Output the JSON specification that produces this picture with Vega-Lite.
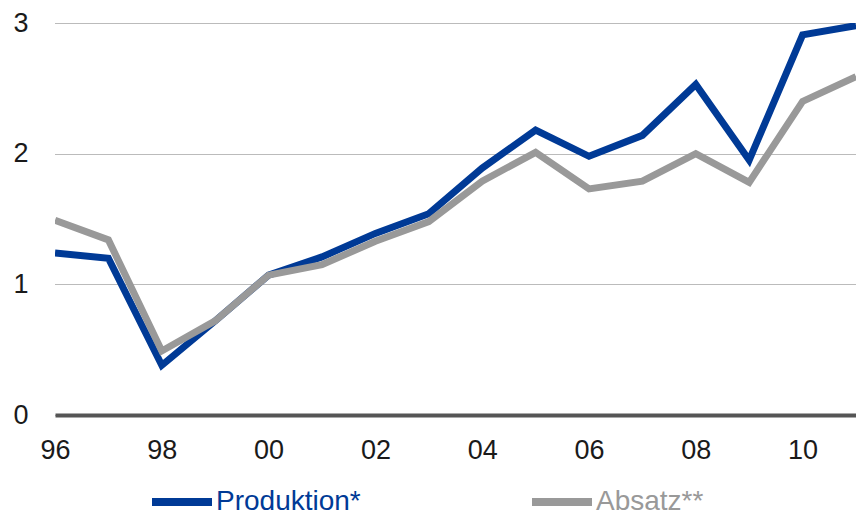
{
  "$schema": "https://vega.github.io/schema/vega-lite/v6.json",
  "width": 801,
  "height": 392,
  "autosize": {"type": "none"},
  "padding": {"left": 55, "top": 23, "right": 0, "bottom": 97},
  "background": "white",
  "config": {
    "view": {"stroke": null},
    "font": "Liberation Sans"
  },
  "data": {
    "values": [
      {"year": 1996, "series": "Produktion*", "value": 1.24},
      {"year": 1997, "series": "Produktion*", "value": 1.20},
      {"year": 1998, "series": "Produktion*", "value": 0.38},
      {"year": 1999, "series": "Produktion*", "value": 0.72},
      {"year": 2000, "series": "Produktion*", "value": 1.07},
      {"year": 2001, "series": "Produktion*", "value": 1.21},
      {"year": 2002, "series": "Produktion*", "value": 1.39},
      {"year": 2003, "series": "Produktion*", "value": 1.54},
      {"year": 2004, "series": "Produktion*", "value": 1.89},
      {"year": 2005, "series": "Produktion*", "value": 2.18},
      {"year": 2006, "series": "Produktion*", "value": 1.98},
      {"year": 2007, "series": "Produktion*", "value": 2.14},
      {"year": 2008, "series": "Produktion*", "value": 2.53},
      {"year": 2009, "series": "Produktion*", "value": 1.95},
      {"year": 2010, "series": "Produktion*", "value": 2.91},
      {"year": 2011, "series": "Produktion*", "value": 2.98},
      {"year": 1996, "series": "Absatz**", "value": 1.49},
      {"year": 1997, "series": "Absatz**", "value": 1.34},
      {"year": 1998, "series": "Absatz**", "value": 0.49},
      {"year": 1999, "series": "Absatz**", "value": 0.72},
      {"year": 2000, "series": "Absatz**", "value": 1.07},
      {"year": 2001, "series": "Absatz**", "value": 1.15},
      {"year": 2002, "series": "Absatz**", "value": 1.33},
      {"year": 2003, "series": "Absatz**", "value": 1.48},
      {"year": 2004, "series": "Absatz**", "value": 1.79},
      {"year": 2005, "series": "Absatz**", "value": 2.01},
      {"year": 2006, "series": "Absatz**", "value": 1.73},
      {"year": 2007, "series": "Absatz**", "value": 1.79},
      {"year": 2008, "series": "Absatz**", "value": 2.0},
      {"year": 2009, "series": "Absatz**", "value": 1.78},
      {"year": 2010, "series": "Absatz**", "value": 2.40},
      {"year": 2011, "series": "Absatz**", "value": 2.59}
    ]
  },
  "encoding": {
    "x": {
      "field": "year", "type": "quantitative",
      "scale": {"domain": [1996, 2011], "nice": false, "zero": false},
      "axis": {
        "title": null, "values": [1996, 1998, 2000, 2002, 2004, 2006, 2008, 2010],
        "labelExpr": "slice(toString(datum.value), 2)",
        "ticks": false, "domain": true, "domainColor": "#555555", "domainWidth": 4,
        "grid": false, "labelPadding": 22, "labelFlush": false,
        "labelFont": "Liberation Sans", "labelFontSize": 27, "labelColor": "#1a1a1a"
      }
    },
    "y": {
      "field": "value", "type": "quantitative",
      "scale": {"domain": [0, 3], "nice": false},
      "axis": {
        "title": null, "values": [0, 1, 2, 3], "ticks": false, "domain": false,
        "grid": true, "gridColor": "#777777", "gridDash": [1, 1], "gridWidth": 1,
        "labelPadding": 27, "labelAlign": "right", "labelBaseline": "middle",
        "labelFont": "Liberation Sans", "labelFontSize": 27, "labelColor": "#1a1a1a"
      }
    },
    "color": {
      "field": "series", "type": "nominal",
      "scale": {"domain": ["Produktion*", "Absatz**"], "range": ["#003A96", "#999999"]},
      "legend": {
        "title": null, "orient": "none", "direction": "horizontal",
        "legendX": 93, "legendY": 445,
        "symbolType": "stroke", "symbolSize": 3600, "symbolStrokeWidth": 8,
        "labelFontSize": 28, "labelFont": "Liberation Sans", "labelOffset": 0,
        "columnPadding": 155, "labelLimit": 400,
        "labelColor": {"expr": "datum.label == 'Absatz**' ? '#999999' : '#003A96'"}
      }
    }
  },
  "layer": [
    {
      "transform": [{"filter": "datum.series == 'Produktion*'"}],
      "mark": {"type": "line", "strokeWidth": 7, "strokeJoin": "miter", "strokeCap": "butt", "clip": true}
    },
    {
      "transform": [{"filter": "datum.series == 'Absatz**'"}],
      "mark": {"type": "line", "strokeWidth": 7, "strokeJoin": "miter", "strokeCap": "butt", "clip": true}
    }
  ]
}
